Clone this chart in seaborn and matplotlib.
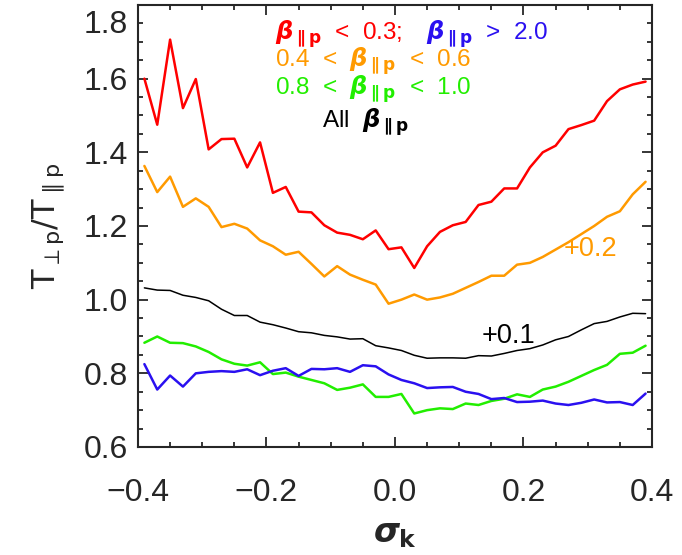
import numpy as np
import pandas as pd
import seaborn as sns
import matplotlib.pyplot as plt
import matplotlib.transforms as mtransforms
from matplotlib.ticker import MultipleLocator

# sigma_k bin centres
sigma_k = [round(-0.39 + 0.02 * i, 2) for i in range(40)]

# T_perp/T_par per beta_par bin (orange shown +0.2, black shown +0.1)
red = [1.600, 1.475, 1.706, 1.520, 1.599, 1.408, 1.436, 1.437, 1.359, 1.427,
       1.290, 1.306, 1.239, 1.237, 1.202, 1.182, 1.176, 1.164, 1.188, 1.137,
       1.142, 1.086, 1.145, 1.184, 1.202, 1.211, 1.257, 1.266, 1.302, 1.302,
       1.359, 1.400, 1.418, 1.463, 1.474, 1.486, 1.539, 1.571, 1.584, 1.592]
orange = [1.363, 1.292, 1.334, 1.252, 1.275, 1.252, 1.197, 1.206, 1.193, 1.161,
          1.145, 1.122, 1.130, 1.097, 1.063, 1.091, 1.068, 1.054, 1.041, 0.989,
          1.000, 1.014, 1.000, 1.006, 1.016, 1.032, 1.048, 1.065, 1.065, 1.095,
          1.100, 1.116, 1.136, 1.156, 1.178, 1.200, 1.225, 1.240, 1.286, 1.320]
black = [1.032, 1.026, 1.025, 1.012, 1.006, 0.997, 0.974, 0.957, 0.957, 0.939,
         0.932, 0.923, 0.913, 0.910, 0.903, 0.899, 0.893, 0.894, 0.875, 0.869,
         0.862, 0.849, 0.841, 0.842, 0.842, 0.841, 0.848, 0.847, 0.854, 0.862,
         0.867, 0.877, 0.891, 0.900, 0.918, 0.935, 0.941, 0.953, 0.963, 0.962]
green = [0.883, 0.900, 0.883, 0.882, 0.873, 0.858, 0.838, 0.826, 0.821, 0.830,
         0.798, 0.802, 0.791, 0.782, 0.773, 0.755, 0.761, 0.770, 0.736, 0.736,
         0.744, 0.691, 0.700, 0.705, 0.703, 0.718, 0.714, 0.725, 0.731, 0.743,
         0.736, 0.756, 0.764, 0.777, 0.793, 0.809, 0.823, 0.853, 0.856, 0.875]
blue = [0.825, 0.756, 0.794, 0.764, 0.800, 0.804, 0.806, 0.804, 0.811, 0.795,
        0.807, 0.814, 0.793, 0.812, 0.811, 0.814, 0.804, 0.822, 0.819, 0.797,
        0.782, 0.773, 0.760, 0.762, 0.763, 0.750, 0.744, 0.730, 0.733, 0.722,
        0.723, 0.726, 0.718, 0.714, 0.720, 0.729, 0.721, 0.722, 0.714, 0.745]

xticks = [-0.4, -0.2, 0.0, 0.2, 0.4]
xticklabels = ['\u22120.4', '\u22120.2', '0.0', '0.2', '0.4']
yticks = [0.6, 0.8, 1.0, 1.2, 1.4, 1.6, 1.8]
yticklabels = ['0.6', '0.8', '1.0', '1.2', '1.4', '1.6', '1.8']

C_RED = '#FF0000'
C_ORANGE = '#FF9A00'
C_GREEN = '#22EE00'
C_BLUE = '#2A10F0'

sns.set_style('ticks')
plt.rcParams['font.family'] = ['Liberation Sans', 'DejaVu Sans']
plt.rcParams['mathtext.fontset'] = 'custom'
plt.rcParams['mathtext.rm'] = 'DejaVu Sans'
plt.rcParams['mathtext.it'] = 'DejaVu Sans:italic:bold'
plt.rcParams['mathtext.bf'] = 'DejaVu Sans:bold'

fig = plt.figure(figsize=(6.82, 5.55), dpi=100)
ax = fig.add_axes([0.2023, 0.1946, 0.7537, 0.7964])

sns.lineplot(x=sigma_k, y=red, color=C_RED, lw=1.8, ax=ax)
sns.lineplot(x=sigma_k, y=orange, color=C_ORANGE, lw=1.8, ax=ax)
sns.lineplot(x=sigma_k, y=black, color='black', lw=1.1, ax=ax)
sns.lineplot(x=sigma_k, y=green, color=C_GREEN, lw=1.8, ax=ax)
sns.lineplot(x=sigma_k, y=blue, color=C_BLUE, lw=1.8, ax=ax)

ax.set_xlim(-0.4, 0.4)
ax.set_ylim(0.6, 1.8)
ax.set_xticks(xticks)
ax.set_xticklabels(xticklabels)
ax.set_yticks(yticks)
ax.set_yticklabels(yticklabels)
ax.xaxis.set_minor_locator(MultipleLocator(0.05))
ax.yaxis.set_minor_locator(MultipleLocator(0.05))
ax.tick_params(which='both', direction='in', top=True, right=True, width=1.3)
ax.tick_params(which='major', length=7.5, labelsize=23)
ax.tick_params(which='minor', length=3.8)
ax.tick_params(axis='x', pad=22)
ax.tick_params(axis='y', pad=7)
for s in ax.spines.values():
    s.set_linewidth(1.5)
    s.set_visible(True)

# top y label sits a bit lower, inside the figure
top_lbl = ax.get_yticklabels()[-1]
top_lbl.set_transform(top_lbl.get_transform() +
                      mtransforms.ScaledTranslation(0, -12 / 72, fig.dpi_scale_trans))

ax.set_xlabel(r'$\sigma_{\mathbf{k}}$', fontsize=24, labelpad=8)
ax.set_ylabel(r'$\mathrm{T}_{\perp \mathrm{p}}/\mathrm{T}_{\parallel \mathrm{p}}$', fontsize=23, labelpad=12)

b = r'$\beta_{\mathbf{\parallel p}}$'
fs = 17.5
ax.text(-0.187, 1.722, b + '  <  0.3;', color=C_RED, fontsize=fs, va='center')
ax.text(0.048, 1.722, b + '  >  2.0', color=C_BLUE, fontsize=fs, va='center')
ax.text(-0.187, 1.648, '0.4  <  ' + b + '  <  0.6', color=C_ORANGE, fontsize=fs, va='center')
ax.text(-0.187, 1.572, '0.8  <  ' + b + '  <  1.0', color=C_GREEN, fontsize=fs, va='center')
ax.text(-0.113, 1.482, 'All  ' + b, color='black', fontsize=fs, va='center')
ax.text(0.263, 1.138, '+0.2', color=C_ORANGE, fontsize=19.5, va='center')
ax.text(0.135, 0.902, '+0.1', color='black', fontsize=19.5, va='center')

plt.savefig('out.png', dpi=100)
